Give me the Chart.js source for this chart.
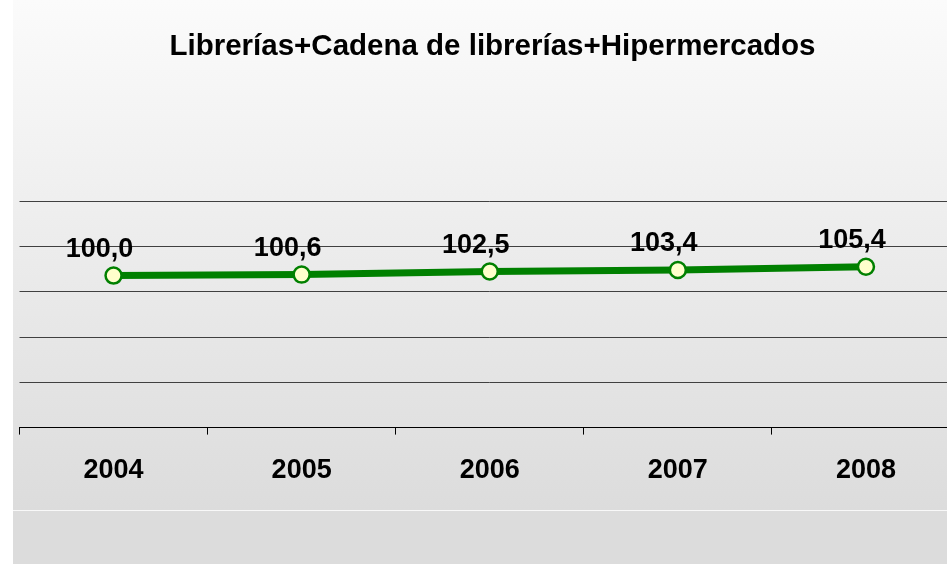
<!DOCTYPE html>
<html>
<head>
<meta charset="utf-8">
<script src="https://cdn.jsdelivr.net/npm/chart.js@4.4.1/dist/chart.umd.min.js"></script>
<style>
  html, body { margin: 0; padding: 0; background: #ffffff; overflow: hidden; width: 947px; height: 564px; }
  #wrap { position: absolute; left: 9px; top: 0; width: 966px; height: 564px; }
</style>
</head>
<body>
<div id="wrap"><canvas id="c" width="966" height="564"></canvas></div>
<script>
const titleText = "Librerías+Cadena de librerías+Hipermercados";
const categories = ["2004", "2005", "2006", "2007", "2008"];
const indexValues = [100.0, 100.6, 102.5, 103.4, 105.4];

const bgPlugin = {
  id: 'bg',
  beforeDraw(chart) {
    const ctx = chart.ctx;
    const w = chart.width, h = chart.height;
    const x0 = 4;
    ctx.save();
    ctx.fillStyle = '#ffffff';
    ctx.fillRect(0, 0, x0, h);
    const g = ctx.createLinearGradient(0, 0, 0, 510);
    g.addColorStop(0, '#fbfbfb');
    g.addColorStop(1, '#dcdcdc');
    ctx.fillStyle = g;
    ctx.fillRect(x0, 0, w - x0, 510);
    ctx.fillStyle = '#dcdcdc';
    ctx.fillRect(x0, 511, w - x0, h - 511);
    ctx.fillStyle = '#f8f8f8';
    ctx.fillRect(x0, 510, w - x0, 1);
    ctx.restore();
  }
};

const labelPlugin = {
  id: 'valueLabels',
  afterDatasetsDraw(chart) {
    const ctx = chart.ctx;
    const meta = chart.getDatasetMeta(0);
    ctx.save();
    ctx.font = 'bold 27px "Liberation Sans", Arial, sans-serif';
    ctx.fillStyle = '#000000';
    ctx.textAlign = 'center';
    ctx.textBaseline = 'alphabetic';
    meta.data.forEach((pt, i) => {
      const txt = indexValues[i].toFixed(1).replace('.', ',');
      ctx.fillText(txt, pt.x - 14, pt.y - 19);
    });
    ctx.restore();
  }
};

new Chart(document.getElementById('c'), {
  type: 'line',
  data: {
    labels: categories,
    datasets: [{
      data: indexValues,
      borderColor: '#008000',
      borderWidth: 7,
      pointRadius: 8,
      pointBorderWidth: 2.5,
      pointBackgroundColor: '#ffffcc',
      pointBorderColor: '#008000',
      tension: 0,
      clip: false
    }]
  },
  options: {
    responsive: false,
    animation: false,
    devicePixelRatio: 1,
    layout: { padding: { left: 2, right: 1, top: 0, bottom: 57 } },
    plugins: {
      legend: { display: false },
      tooltip: { enabled: false },
      title: {
        display: true,
        text: titleText,
        color: '#000000',
        font: { family: '"Liberation Sans", Arial, sans-serif', size: 29.5, weight: 'bold' },
        padding: { top: 29, bottom: 137 }
      }
    },
    scales: {
      x: {
        type: 'category',
        offset: true,
        border: { display: true, color: '#000000', width: 1 },
        grid: {
          display: true,
          offset: true,
          drawOnChartArea: false,
          drawTicks: true,
          tickLength: 7,
          tickColor: '#000000'
        },
        ticks: {
          color: '#000000',
          padding: 20,
          font: { family: '"Liberation Sans", Arial, sans-serif', size: 27, weight: 'bold' }
        }
      },
      y: {
        position: 'right',
        min: 7,
        max: 145.4,
        display: true,
        border: { display: false },
        afterFit(scale) { scale.width = 14; },
        afterBuildTicks(scale) {
          const t = [];
          for (let i = 0; i <= 5; i++) t.push({ value: scale.min + (scale.max - scale.min) * i / 5 });
          scale.ticks = t;
        },
        grid: {
          color: (c) => (c.index === 0 ? 'rgba(0,0,0,0)' : '#404040'),
          lineWidth: 1,
          drawTicks: false
        },
        ticks: { display: false }
      }
    }
  },
  plugins: [bgPlugin, labelPlugin]
});
</script>
</body>
</html>
